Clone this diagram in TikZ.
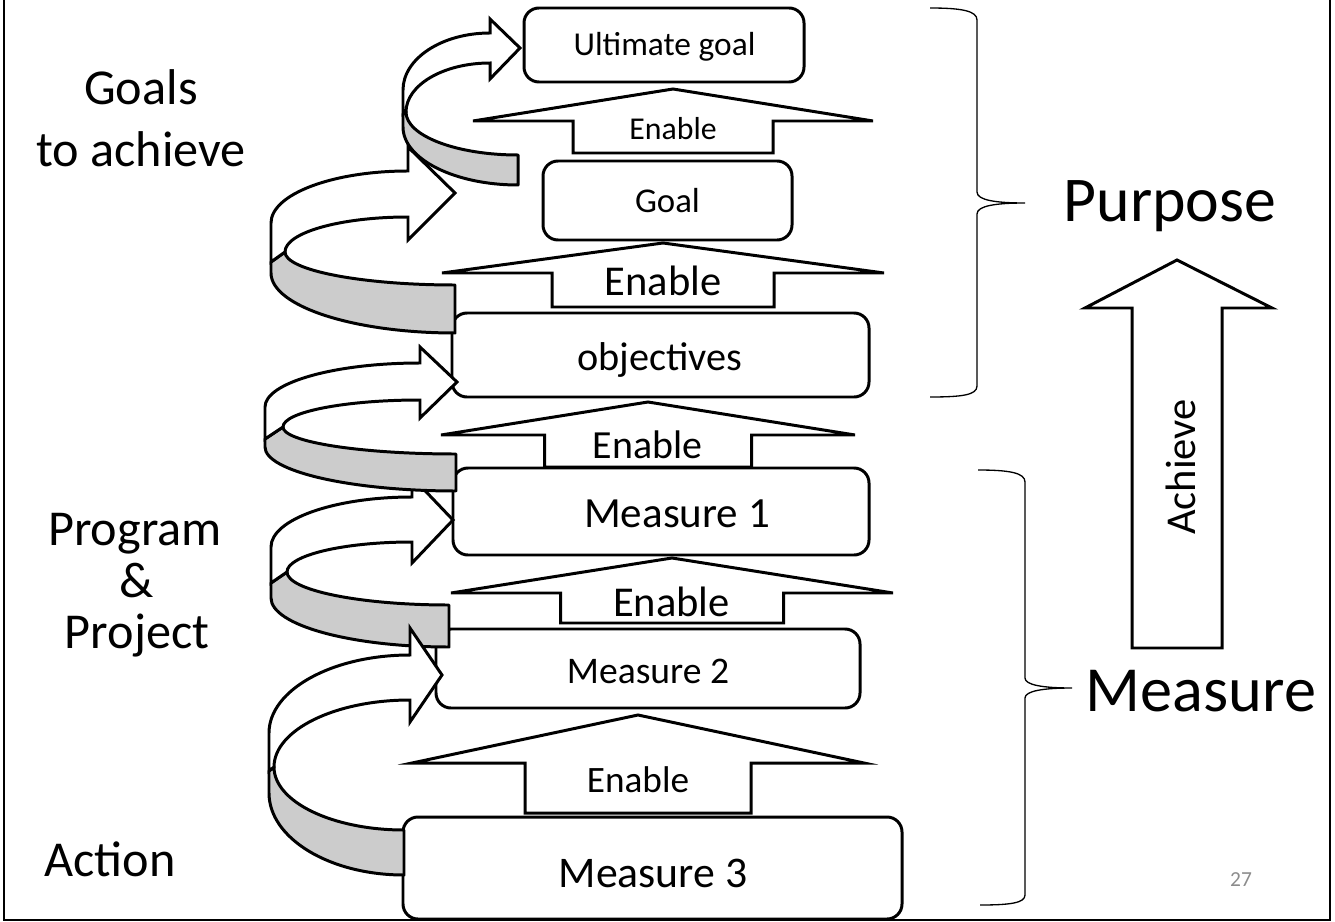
\documentclass[tikz,border=0pt]{standalone}
\usepackage{fontspec}
\setmainfont{Carlito}
\usetikzlibrary{calc}
\newcommand{\fsz}[1]{\fontsize{#1pt}{#1pt}\selectfont}
% quarter-ellipse: from a point with vertical tangent to a point with horizontal tangent
\newcommand{\qv}[4]{.. controls (#1,{#2+0.552*(#4-#2)}) and ({#3+0.552*(#1-#3)},#4) .. (#3,#4)}
% quarter-ellipse: from a point with horizontal tangent to a point with vertical tangent
\newcommand{\qh}[4]{.. controls ({#1+0.552*(#3-#1)},#2) and (#3,{#4+0.552*(#2-#4)}) .. (#3,#4)}
\newcommand{\enab}[6]{\draw[enab] (#1,#2) -- ({#1+#4},#3) -- ({#1+#5},#3) -- ({#1+#5},#6) -- ({#1-#5},#6) -- ({#1-#5},#3) -- ({#1-#4},#3) -- cycle;}
\newcommand{\rboxnode}[5]{\node[rbox, minimum width={(#4-#2)*0.02cm}, minimum height={(#5-#3)*0.02cm}] (#1) at ({(#2+#4)/2},{(#3+#5)/2}) {};}
\tikzset{
  rbox/.style={draw, line width=1.7pt, rounded corners=0.3cm, fill=white, inner sep=0pt},
  enab/.style={draw, line width=1.7pt, fill=white, line join=miter},
  curlg/.style={draw, line width=1.7pt, fill=black!20, line join=round},
  curlw/.style={draw, line width=1.7pt, fill=white, line join=miter},
  brace/.style={draw, line width=0.75pt},
  frame/.style={draw, line width=1.1pt},
  txt/.style={inner sep=0pt, anchor=base},
}
\begin{document}
\begin{tikzpicture}[x=0.02cm, y=-0.02cm]
\useasboundingbox (0,0) rectangle (1335,922);
% frame
\draw[frame] (4,0) -- (4,920) -- (1330,920) -- (1330,0);
% boxes
\rboxnode{ug}{524}{8}{804}{82}
\rboxnode{goal}{543}{161}{792}{240}
\rboxnode{obj}{452}{313}{869}{397}
\rboxnode{m1}{453}{468}{869}{555}
\rboxnode{m2}{436}{629}{860}{708}
\rboxnode{m3}{403}{817}{902}{919}
% enable arrows
\enab{673}{89}{121}{200}{100}{153}
\enab{663}{243}{273}{221}{111}{307}
\enab{648}{402}{435}{207}{103.5}{467}
\enab{672}{558}{593}{221}{111.5}{623}
\enab{638}{715}{763}{226}{113}{813}
% curl B (Measure 2 -> Measure 1)
\draw[curlg] (287,572) \qv{287}{572}{449}{605} -- (449,647) \qh{449}{647}{271}{598} -- (271,583) -- cycle;
\draw[curlw] (271,547) \qv{271}{547}{412}{497} -- (412,477) -- (453,520) -- (412,563) -- (412,542) \qh{412}{542}{287}{572} -- (271,583) -- cycle;
% curl A (Measure 3 -> Measure 2)
\draw[curlg] (274,767) \qv{274}{767}{404}{830} -- (404,875) \qh{404}{875}{269}{793} -- (269,771) -- cycle;
\draw[curlw] (269,733) \qv{269}{733}{410}{655} -- (410,628) -- (442,675) -- (410,722) -- (410,700) \qh{410}{700}{274}{767} -- (269,771) -- cycle;
% curl C (Measure 1 -> objectives)
\draw[curlg] (283,427) \qv{283}{427}{456}{454} -- (456,491) \qh{456}{491}{265}{447} -- (265,439) -- cycle;
\draw[curlw] (265,407) \qv{265}{407}{420}{363} -- (420,347) -- (457,382) -- (420,418) -- (420,400) \qh{420}{400}{283}{427} -- (265,439) -- cycle;
% curl E (Goal -> Ultimate goal)
\draw[curlg] (406,112) \qv{406}{112}{518}{155} -- (518,185) \qh{518}{185}{403}{127} -- (403,114) -- cycle;
\draw[curlw] (403,90) \qv{403}{90}{490}{33} -- (490,19) -- (520,48) -- (490,79) -- (490,63) \qh{490}{63}{406}{112} -- (403,114) -- cycle;
% curl D (objectives -> Goal)
\draw[curlg] (285,252) \qv{285}{252}{455}{285} -- (455,333) \qh{455}{333}{271}{273} -- (271,262) -- cycle;
\draw[curlw] (271,223) \qv{271}{223}{408}{171} -- (408,147) -- (455,193) -- (408,240) -- (408,217) \qh{408}{217}{285}{252} -- (271,262) -- cycle;
% braces
\draw[brace] (930,8) .. controls (962,8) and (977,11) .. (977,20) -- (977,192) .. controls (977,200) and (995,203) .. (1025,203) .. controls (995,203) and (977,206) .. (977,214) -- (977,386) .. controls (977,395) and (962,397) .. (930,397);
\draw[brace] (978,470) .. controls (1010,470) and (1025,473) .. (1025,482) -- (1025,678) .. controls (1025,685) and (1043,688) .. (1072,688) .. controls (1043,688) and (1025,691) .. (1025,698) -- (1025,895) .. controls (1025,903) and (1010,905) .. (980,905);
% achieve arrow
\draw[enab] (1177,260) -- (1272,308) -- (1222,308) -- (1222,648) -- (1132,648) -- (1132,308) -- (1085,308) -- cycle;
% texts
\node[txt, font=\fsz{19}] (tug) at (664.5,56) {Ultimate goal};
\node[txt, font=\fsz{18.1}] (te1) at (673,140) {Enable};
\node[txt, font=\fsz{19.8}] (tgoal) at (667.5,213) {Goal};
\node[txt, font=\fsz{24.2}] (te2) at (663,296) {Enable};
\node[txt, font=\fsz{22.9}] (tobj) at (660,370) {objectives};
\node[txt, font=\fsz{22.7}] (te3) at (647.5,458) {Enable};
\node[txt, font=\fsz{24.5}] (tm1) at (677,527) {Measure 1};
\node[txt, font=\fsz{24.2}] (te4) at (671.5,616) {Enable};
\node[txt, font=\fsz{21.4}] (tm2) at (648,683) {Measure 2};
\node[txt, font=\fsz{21.2}] (te5) at (638,792) {Enable};
\node[txt, font=\fsz{24.9}] (tm3) at (653,887) {Measure 3};
\node[txt, font=\fsz{28.6}] (lg1) at (141,105) {Goals};
\node[txt, font=\fsz{28.6}] (lg2) at (141,167) {to achieve};
\node[txt, font=\fsz{28.6}] (lp1) at (135,545) {Program};
\node[txt, font=\fsz{28.6}] (lp2) at (137,597) {\&};
\node[txt, font=\fsz{28.6}] (lp3) at (137,648) {Project};
\node[txt, font=\fsz{28.6}] (la) at (110,876) {Action};
\node[txt, font=\fsz{36.3}] (purp) at (1170,222) {Purpose};
\node[txt, font=\fsz{36.6}] (meas) at (1201,711) {Measure};
\node[txt, font=\fsz{24.2}, rotate=90] (ach) at (1195,467) {Achieve};
\node[txt, font=\fsz{12.2}, text=black!45] (pg) at (1241,886) {27};
\end{tikzpicture}
\end{document}
